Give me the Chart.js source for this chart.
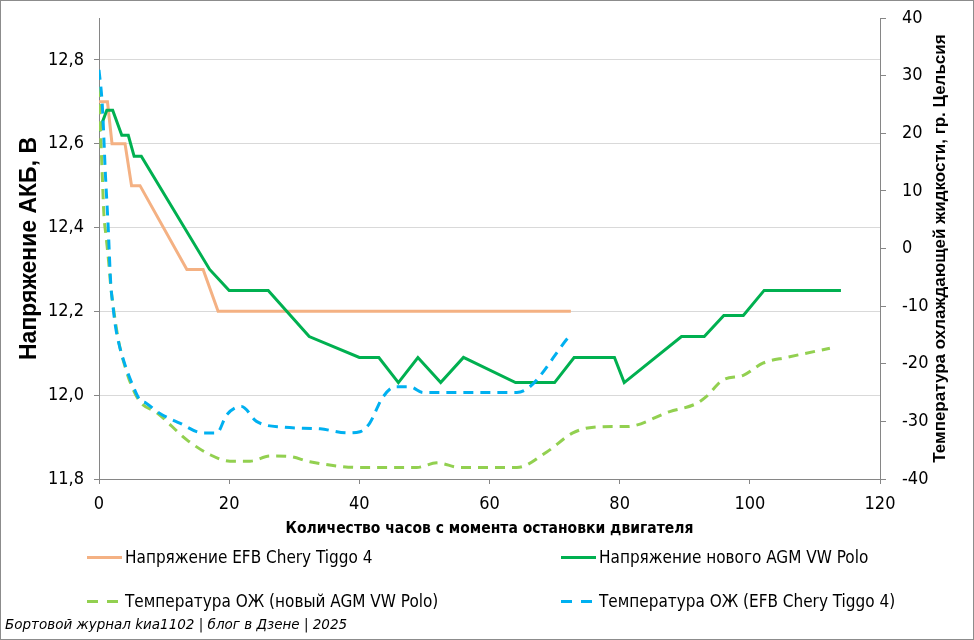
<!DOCTYPE html>
<html>
<head>
<meta charset="utf-8">
<script src="https://cdn.jsdelivr.net/npm/chart.js@4.4.1/dist/chart.umd.min.js"></script>
<style>
  body { margin: 0; background: #fff; }
  #wrap {
    position: relative;
    width: 974px;
    height: 640px;
    overflow: hidden;
    font-family: "DejaVu Sans Condensed", "DejaVu Sans", sans-serif;
  }
  #frame {
    position: absolute; left: 0; top: 0;
    width: 972px; height: 638px;
    border: 1px solid #8c8c8c;
    pointer-events: none;
  }
  #chartCanvas { position: absolute; left: 0; top: 0; }
  #legend {
    position: absolute; left: 87px; top: 535px;
    display: grid;
    grid-template-columns: 474px auto;
    grid-auto-rows: 44px;
  }
  .legend-item {
    display: flex; align-items: center;
    font-size: 17px; color: #000; white-space: nowrap;
  }
  .swatch { width: 35px; height: 3px; margin-right: 3px; }
  #footer {
    position: absolute; left: 5px; top: 616px;
    font-family: "DejaVu Sans", sans-serif;
    font-style: italic;
    font-size: 13.5px;
    color: #000;
  }
</style>
</head>
<body>
<div id="wrap">
  <canvas id="chartCanvas" width="974" height="545"></canvas>
  <div id="legend"></div>
  <div id="footer">Бортовой журнал kиа1102 | блог в Дзене | 2025</div>
  <div id="frame"></div>
</div>
<script>
// hours since engine stop
const efbVoltHours = [0, 1.3, 2, 4, 5, 6.3, 13.5, 16, 18.3, 72.5];
const efbVolt = [12.7, 12.7, 12.6, 12.6, 12.5, 12.5, 12.3, 12.3, 12.2, 12.2];

const agmVoltHours = [0, 1.2, 2.1, 3.5, 4.5, 5.4, 6.5, 17, 20, 26, 32.3, 40, 43, 46, 49, 52.5, 56, 64, 70, 73, 79.2, 80.7, 89.5, 93, 96, 99, 102.2, 114];
const agmVolt = [12.63, 12.68, 12.68, 12.62, 12.62, 12.57, 12.57, 12.30, 12.25, 12.25, 12.14, 12.09, 12.09, 12.03, 12.09, 12.03, 12.09, 12.03, 12.03, 12.09, 12.09, 12.03, 12.14, 12.14, 12.19, 12.19, 12.25, 12.25];

const agmTempHours = [0, 0.25, 0.5, 0.75, 1.1, 1.5, 1.8, 2.3, 3, 4, 5, 6.3, 8.9, 13.5, 17.1, 20.1, 23.2, 26.3, 29.3, 32.4, 40.1, 48.8, 51.9, 55.5, 64.2, 68.8, 72.8, 76, 79, 81.1, 87.7, 91.8, 93.3, 95.9, 99, 102, 105.7, 112.3];
const agmTemp = [28, 20, 12.8, 6, 2, -2.5, -6.5, -11, -16, -20.5, -23.8, -26.6, -28.5, -33.2, -35.8, -36.9, -36.9, -36, -36.1, -37, -38, -38, -37.2, -38, -38, -35.3, -32, -31, -30.9, -30.9, -28.3, -26.9, -25.7, -22.8, -22, -19.9, -18.9, -17.3];

const efbTempHours = [0, 0.5, 1, 1.4, 1.8, 2.1, 2.5, 3.1, 4, 5.1, 6.3, 7.2, 9.3, 12.4, 16, 18.1, 19.6, 21.9, 24.2, 28.3, 34, 38.1, 40.1, 41.6, 43.5, 45.5, 47.8, 49.8, 64.2, 72.6];
const efbTemp = [31, 25, 12.5, 4, -6, -9.5, -13.3, -16.7, -20.2, -23.5, -26.3, -26.8, -28.6, -30.3, -32, -32, -28.9, -27.4, -30, -31, -31.3, -32, -31.8, -30.3, -26, -24, -24, -25, -25, -14.8];

const xTitle = "Количество часов с момента остановки двигателя";
const leftTitle = "Напряжение АКБ, В";
const rightTitle = "Температура охлаждающей жидкости, гр. Цельсия";

const axisColor = "#868686";
const tickFont = { family: "'DejaVu Sans Condensed', 'DejaVu Sans', sans-serif", size: 18 };

function toPoints(xs, ys) {
  return xs.map((x, i) => ({ x: x, y: ys[i] }));
}

// keep tick labels from pushing the plot area around
function fixBox(width) {
  return (scale) => {
    scale.width = width;
    scale.paddingTop = 0;
    scale.paddingBottom = 0;
  };
}

const datasets = [
  {
    label: "Напряжение EFB Chery Tiggo 4",
    data: toPoints(efbVoltHours, efbVolt),
    borderColor: "#f4b183",
    borderWidth: 3,
    yAxisID: "y",
    order: 4
  },
  {
    label: "Напряжение нового AGM VW Polo",
    data: toPoints(agmVoltHours, agmVolt),
    borderColor: "#00b050",
    borderWidth: 3,
    yAxisID: "y",
    order: 3
  },
  {
    label: "Температура ОЖ (новый AGM VW Polo)",
    data: toPoints(agmTempHours, agmTemp),
    borderColor: "#92d050",
    borderWidth: 3,
    borderDash: [10, 7],
    cubicInterpolationMode: "monotone",
    yAxisID: "y2",
    order: 2
  },
  {
    label: "Температура ОЖ (EFB Chery Tiggo 4)",
    data: toPoints(efbTempHours, efbTemp),
    borderColor: "#00b0f0",
    borderWidth: 3,
    borderDash: [10, 7],
    cubicInterpolationMode: "monotone",
    yAxisID: "y2",
    order: 1
  }
];

const rightTitlePlugin = {
  id: "rightTitle",
  afterDraw(chart) {
    const ctx = chart.ctx;
    const area = chart.chartArea;
    const scale = chart.scales.y2;
    ctx.save();
    ctx.translate(scale.right - 34, (area.top + area.bottom) / 2);
    ctx.rotate(-Math.PI / 2);
    ctx.font = "bold 17px 'Liberation Sans', sans-serif";
    ctx.fillStyle = "#000";
    ctx.textAlign = "center";
    ctx.textBaseline = "middle";
    ctx.fillText(rightTitle, 0, 0);
    ctx.restore();
  }
};

const ctx = document.getElementById("chartCanvas").getContext("2d");

const chart = new Chart(ctx, {
  type: "line",
  data: { datasets: datasets },
  options: {
    responsive: false,
    animation: false,
    devicePixelRatio: 1,
    layout: { padding: { top: 18 } },
    elements: { point: { radius: 0 }, line: { borderCapStyle: "butt" } },
    plugins: {
      legend: { display: false },
      tooltip: { enabled: false }
    },
    scales: {
      x: {
        type: "linear",
        min: 0,
        max: 120,
        ticks: { stepSize: 20, font: tickFont, color: "#000", padding: 10 },
        grid: { drawOnChartArea: false, tickLength: 5, tickColor: axisColor },
        border: { color: axisColor },
        title: {
          display: true,
          text: xTitle,
          color: "#000",
          font: { family: "'DejaVu Sans Condensed', sans-serif", size: 15.5, weight: "bold" },
          padding: { top: 0, bottom: 7 }
        },
        afterFit: (scale) => { scale.height = 66; }
      },
      y: {
        position: "left",
        min: 11.8,
        max: 12.9,
        ticks: {
          stepSize: 0.2,
          includeBounds: false,
          font: tickFont,
          color: "#000",
          padding: 10,
          callback: (value) => value.toFixed(1).replace(".", ",")
        },
        grid: { color: "#d9d9d9", tickColor: axisColor, tickLength: 5 },
        border: { color: axisColor },
        title: {
          display: true,
          text: leftTitle,
          color: "#000",
          font: { family: "'Liberation Sans', sans-serif", size: 23, weight: "bold" },
          padding: { top: 16, bottom: 0 }
        },
        afterFit: fixBox(99)
      },
      y2: {
        position: "right",
        min: -40,
        max: 40,
        ticks: { stepSize: 10, font: tickFont, color: "#000", padding: 16 },
        grid: { drawOnChartArea: false, tickColor: axisColor, tickLength: 6 },
        border: { color: axisColor },
        afterFit: fixBox(94)
      }
    }
  },
  plugins: [rightTitlePlugin]
});

// legend in two columns, same order as the reference
const legendOrder = [0, 1, 2, 3];
const legendBox = document.getElementById("legend");
legendOrder.forEach((i) => {
  const ds = datasets[i];
  const item = document.createElement("div");
  item.className = "legend-item";
  const sw = document.createElement("span");
  sw.className = "swatch";
  if (ds.borderDash) {
    sw.style.background = "repeating-linear-gradient(90deg, " + ds.borderColor + " 0 11px, transparent 11px 20px)";
  } else {
    sw.style.background = ds.borderColor;
  }
  item.appendChild(sw);
  item.appendChild(document.createTextNode(ds.label));
  legendBox.appendChild(item);
});
</script>
</body>
</html>
